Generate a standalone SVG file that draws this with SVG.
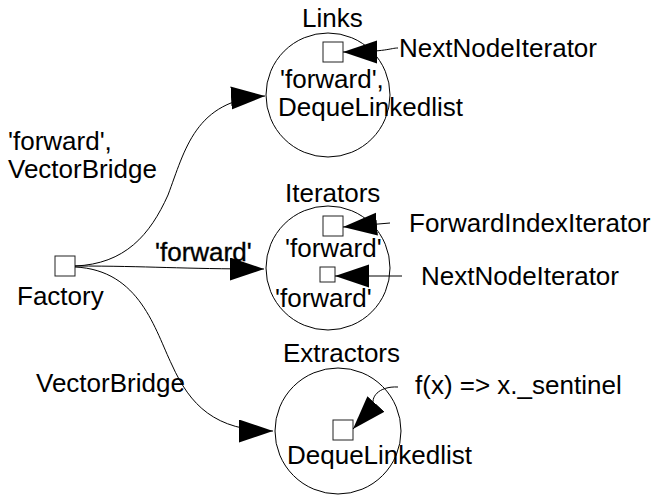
<svg xmlns="http://www.w3.org/2000/svg" width="660" height="495" viewBox="0 0 660 495">
<style>
text{font-family:"Liberation Sans",Arial,sans-serif;font-size:26px;fill:#000}
.c{fill:#fff;stroke:#000;stroke-width:1}
.sq{fill:#fff;stroke:#222;stroke-width:1}
.ln{fill:none;stroke:#000;stroke-width:1}
.bold{stroke:#000;stroke-width:0.35}
</style>
<defs>
<marker id="ah" markerUnits="userSpaceOnUse" markerWidth="36" markerHeight="26" refX="34" refY="11.5" orient="auto">
<path d="M0,0 L34,11.5 L0,23 z" fill="#000"/>
</marker>
</defs>
<rect width="660" height="495" fill="#fff"/>
<g id="links">
<circle class="c" cx="328" cy="95" r="62"/>
<rect class="sq" x="323" y="42" width="20" height="20"/>
<text x="302" y="27">Links</text>
<text x="280" y="88">'forward',</text>
<text x="278" y="116">DequeLinkedlist</text>
</g>
<g id="iterators">
<circle class="c" cx="328" cy="268" r="62"/>
<rect class="sq" x="323" y="216" width="20" height="20"/>
<rect class="sq" x="320" y="267" width="15" height="15"/>
<text x="285" y="202">Iterators</text>
<text x="285" y="257">'forward'</text>
<text x="275" y="307">'forward'</text>
</g>
<g id="extractors">
<circle class="c" cx="338" cy="431" r="63"/>
<rect class="sq" x="333" y="420" width="20" height="20"/>
<text x="283" y="362">Extractors</text>
<text x="287" y="464">DequeLinkedlist</text>
</g>
<g id="factory">
<rect class="sq" x="55" y="256" width="20" height="20"/>
<text x="17" y="305">Factory</text>
</g>
<g id="labels">
<text x="399" y="57">NextNodeIterator</text>
<text x="409" y="232">ForwardIndexIterator</text>
<text x="421" y="285">NextNodeIterator</text>
<text x="415" y="394">f(x) =&gt; x._sentinel</text>
</g>
<g id="connectors">
<path class="ln" d="M75,266 C125,264 150,235 168,195 C185,150 195,100 265,96" marker-end="url(#ah)"/>
<path class="ln" d="M75,266 C150,266 180,269 264,269" marker-end="url(#ah)"/>
<path class="ln" d="M75,267 C140,270 155,330 172,365 C190,405 215,431 273,431" marker-end="url(#ah)"/>
<path class="ln" d="M398,48 C390,48 388,52 343,52" marker-end="url(#ah)"/>
<path class="ln" d="M390,223 L343,227" marker-end="url(#ah)"/>
<path class="ln" d="M402,276 L335,276" marker-end="url(#ah)"/>
<path class="ln" d="M398,387 C378,386 370,398 374,406 L353,429" marker-end="url(#ah)"/>
<text x="8" y="150">'forward',</text>
<text x="8" y="178">VectorBridge</text>
<text class="bold" x="155" y="261">'forward'</text>
<text x="36" y="392">VectorBridge</text>
</g>
</svg>
